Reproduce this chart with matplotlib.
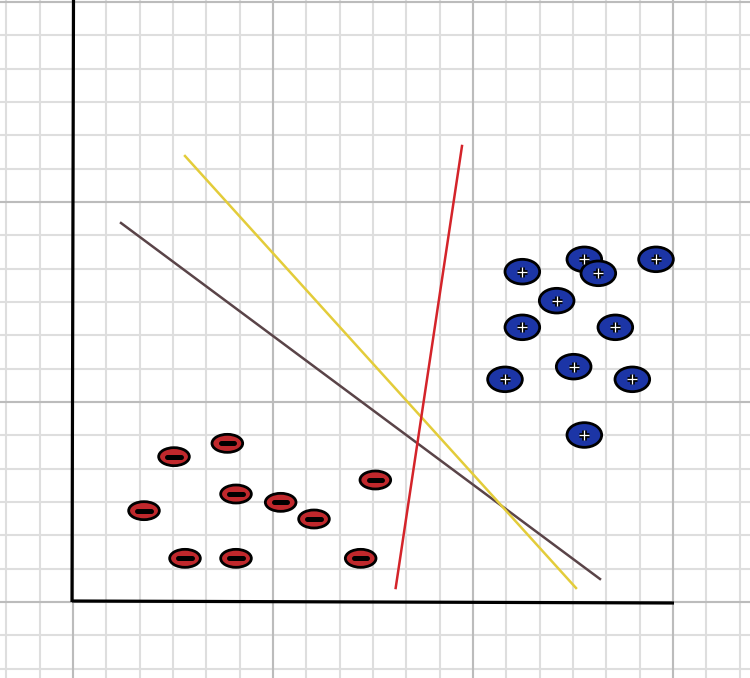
import matplotlib
matplotlib.use("Agg")
import matplotlib.pyplot as plt
from matplotlib.patches import Ellipse
import numpy as np

# ---- data (grid-cell units) ----
pos_x = [13.48, 15.34, 15.76, 17.49, 14.51, 13.48, 16.27, 12.96, 15.02, 16.78, 15.34]
pos_y = [9.91, 10.28, 9.86, 10.28, 9.04, 8.24, 8.24, 6.68, 7.06, 6.68, 5.01]

neg_x = [3.03, 4.63, 4.89, 2.13, 6.23, 7.23, 9.07, 3.36, 4.89, 8.63]
neg_y = [4.36, 4.76, 3.24, 2.74, 2.99, 2.49, 3.66, 1.31, 1.31, 1.31]

yellow_x = [3.36, 15.09]
yellow_y = [13.38, 0.42]
brown_x = [1.44, 15.81]
brown_y = [11.37, 0.69]
red_x = [11.67, 9.68]
red_y = [13.68, 0.42]

yaxis_x = [0.015, -0.03]
yaxis_y = [18.06, 0.0]
xaxis_x = [-0.03, 18.03]
xaxis_y = [0.03, -0.03]

minor_ticks_x = list(range(-2, 21))
minor_ticks_y = list(range(-2, 19))
major_ticks = [0, 6, 12, 18]

# ---- figure ----
fig = plt.figure(figsize=(7.5, 6.78), dpi=100)
ax = fig.add_axes([0, 0, 1, 1])
unit = 100 / 3.0  # px per cell
ax.set_xlim(-73 / unit, 677 / unit)
ax.set_ylim(-76 / unit, 602 / unit)
ax.set_facecolor("white")

for v in minor_ticks_x:
    ax.axvline(v, color="#dedede", lw=1.5, zorder=0)
for v in minor_ticks_y:
    ax.axhline(v, color="#dedede", lw=1.5, zorder=0)
for v in major_ticks:
    ax.axvline(v, color="#bcbcbc", lw=1.5, zorder=0.5)
    ax.axhline(v, color="#bcbcbc", lw=1.5, zorder=0.5)

ax.set_xticks([])
ax.set_yticks([])
for s in ax.spines.values():
    s.set_visible(False)

# axes
ax.plot(yaxis_x, yaxis_y, color="black", lw=2.3, zorder=2, solid_capstyle="butt")
ax.plot(xaxis_x, xaxis_y, color="black", lw=2.3, zorder=2, solid_capstyle="butt")

# separating lines
ax.plot(brown_x, brown_y, color="#5a4448", lw=1.8, zorder=3)
ax.plot(yellow_x, yellow_y, color="#e3cc3a", lw=1.8, zorder=3)
ax.plot(red_x, red_y, color="#d4242a", lw=1.8, zorder=3)

# positive points
for x, y in zip(pos_x, pos_y):
    ax.add_patch(Ellipse((x, y), 1.04, 0.74, facecolor="#1c35a6",
                         edgecolor="black", lw=2.0, zorder=4))
ax.scatter(pos_x, pos_y, marker="+", s=60, c="black", linewidths=3.4, zorder=5)
ax.scatter(pos_x, pos_y, marker="+", s=42, c="white", linewidths=0.9, zorder=6)

# negative points
for x, y in zip(neg_x, neg_y):
    ax.add_patch(Ellipse((x, y), 0.92, 0.54, facecolor="#c0282c",
                         edgecolor="black", lw=2.0, zorder=4))
    ax.plot([x - 0.2, x + 0.2], [y, y], color="black", lw=3.6,
            solid_capstyle="round", zorder=5)

fig.savefig("out.png", dpi=100)
